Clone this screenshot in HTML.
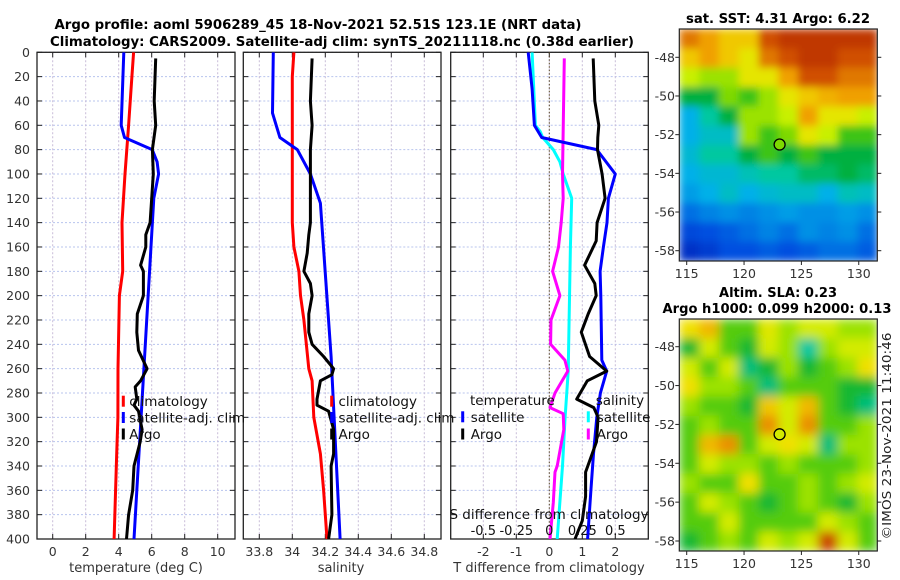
<!DOCTYPE html>
<html><head><meta charset="utf-8"><title>Argo profile</title>
<style>
html,body{margin:0;padding:0;background:#fff;}
svg{display:block;font-family:"DejaVu Sans","Liberation Sans",sans-serif;}
</style></head>
<body>
<svg id="fig" width="900" height="580" viewBox="0 0 900 580" xmlns="http://www.w3.org/2000/svg">
<defs>
<clipPath id="cp1"><rect x="37" y="52.3" width="198" height="486.7"/></clipPath>
<clipPath id="cp2"><rect x="243.3" y="52.3" width="197.7" height="486.7"/></clipPath>
<clipPath id="cp3"><rect x="450.7" y="52.3" width="197.6" height="486.7"/></clipPath>
<clipPath id="cpm1"><rect x="679.3" y="29" width="198" height="232"/></clipPath>
<clipPath id="cpm2"><rect x="679.3" y="319" width="198" height="232"/></clipPath>
<filter id="blurA" x="0" y="0" width="1" height="1"><feGaussianBlur stdDeviation="4" edgeMode="duplicate"/></filter>
<filter id="blurB" x="0" y="0" width="1" height="1"><feGaussianBlur stdDeviation="5" edgeMode="duplicate"/></filter>
</defs>
<text x="318" y="29" text-anchor="middle" font-weight="bold" font-size="13.5" textLength="527" lengthAdjust="spacingAndGlyphs">Argo profile: aoml 5906289_45 18-Nov-2021 52.51S 123.1E (NRT data)</text>
<text x="342" y="46" text-anchor="middle" font-weight="bold" font-size="13.5" textLength="584" lengthAdjust="spacingAndGlyphs">Climatology: CARS2009. Satellite-adj clim: synTS_20211118.nc (0.38d earlier)</text>
<text x="778" y="23" text-anchor="middle" font-weight="bold" font-size="13" textLength="184" lengthAdjust="spacingAndGlyphs">sat. SST: 4.31 Argo: 6.22</text>
<text x="778" y="297" text-anchor="middle" font-weight="bold" font-size="13" textLength="118" lengthAdjust="spacingAndGlyphs">Altim. SLA: 0.23</text>
<text x="777" y="313" text-anchor="middle" font-weight="bold" font-size="13" textLength="229" lengthAdjust="spacingAndGlyphs">Argo h1000: 0.099 h2000: 0.13</text>
<text transform="translate(891,436) rotate(-90)" text-anchor="middle" font-size="12.5" fill="#222" textLength="207" lengthAdjust="spacingAndGlyphs">©IMOS 23-Nov-2021 11:40:46</text>
<g id="root"></g>
</svg>
<script>
// ---------- data ----------
const depthTicks = [0,20,40,60,80,100,120,140,160,180,200,220,240,260,280,300,320,340,360,380,400];
const tempTicks = [0,2,4,6,8,10];
const salTicks = [33.8,34,34.2,34.4,34.6,34.8];
const salTickLabels = ["33.8","34","34.2","34.4","34.6","34.8"];
const tdiffTicks = [-2,-1,0,1,2];
const sdiffTicks = [-0.5,-0.25,0,0.25,0.5];
const sdiffTickLabels = ["-0.5","-0.25","0","0.25","0.5"];
const lonTicks = [115,120,125,130];
const latTicks = [-48,-50,-52,-54,-56,-58];

const climTP = [0,20,60,100,140,180,200,260,300,330,400];
const climT  = [4.9,4.8,4.6,4.38,4.2,4.24,4.04,3.96,3.95,3.88,3.72];
const satTP  = [0,60,70,80,90,100,120,400];
const satT   = [4.31,4.15,4.35,6.03,6.33,6.42,6.13,4.93];
const argoTP = [5,40,60,80,100,140,150,160,175,180,200,215,230,245,260,270,275,285,290,295,310,320,340,360,380,400];
const argoT  = [6.24,6.15,6.24,6.04,6.1,5.9,5.64,5.64,5.33,5.5,5.5,5.13,5.1,5.2,5.72,5.33,5.0,5.1,4.93,5.2,5.42,5.3,4.93,4.85,4.6,4.47];

const climSP = [0,20,100,140,160,180,200,220,260,270,300,330,360,400];
const climS  = [34.01,34.0,34.0,34.0,34.01,34.04,34.05,34.07,34.10,34.12,34.13,34.17,34.19,34.21];
const satSP  = [0,50,70,80,100,124,250,400];
const satS   = [33.885,33.88,33.925,34.03,34.11,34.17,34.235,34.29];
const argoSP = [5,40,60,80,100,140,150,165,180,190,200,215,230,240,250,260,265,270,285,290,295,310,330,340,380,400];
const argoS  = [34.12,34.11,34.12,34.11,34.11,34.11,34.10,34.09,34.07,34.11,34.12,34.10,34.10,34.12,34.19,34.25,34.24,34.17,34.15,34.15,34.22,34.25,34.25,34.235,34.24,34.22];

const tdSatP  = [0,30,60,70,80,100,120,140,160,180,200,253,262,280,300,330,360,400];
const tdSat   = [-0.64,-0.52,-0.45,-0.23,1.44,2.0,1.79,1.75,1.64,1.54,1.56,1.59,1.74,1.55,1.44,1.34,1.26,1.16];
const tdArgoP = [5,40,60,70,80,100,120,140,155,175,190,200,215,230,250,262,270,285,292,300,320,330,345,365,385,400];
const tdArgo  = [1.33,1.38,1.5,1.47,1.46,1.6,1.69,1.45,1.42,1.07,1.38,1.42,1.18,0.97,1.22,1.74,1.15,0.83,1.35,1.48,1.43,1.3,1.1,1.1,1.0,0.78];
const sdSatP  = [0,60,65,70,80,90,100,120,160,253,260,300,340,400];
const sdSat   = [-0.13,-0.105,-0.07,-0.05,0.03,0.08,0.105,0.17,0.16,0.145,0.145,0.12,0.1,0.06];
const sdArgoP = [5,100,120,140,160,180,200,220,240,253,262,280,292,297,310,340,345,370,400];
const sdArgo  = [0.114,0.10,0.105,0.09,0.07,0.025,0.08,0.013,0.01,0.118,0.14,0.043,0.005,0.105,0.11,0.06,0.043,0.03,0.005];

const sstGrid = [
[0.85,0.8,0.75,0.75,0.9,0.95,0.95,0.95,0.95,0.95],
[0.75,0.8,0.75,0.7,0.85,0.9,0.95,0.95,0.9,0.9],
[0.65,0.62,0.62,0.7,0.7,0.8,0.9,0.9,0.85,0.85],
[0.5,0.5,0.6,0.55,0.62,0.7,0.75,0.78,0.8,0.8],
[0.35,0.45,0.5,0.62,0.62,0.65,0.8,0.7,0.7,0.65],
[0.35,0.4,0.4,0.62,0.55,0.6,0.7,0.65,0.55,0.55],
[0.38,0.45,0.45,0.5,0.55,0.5,0.55,0.5,0.5,0.5],
[0.35,0.38,0.38,0.42,0.45,0.45,0.48,0.48,0.5,0.48],
[0.32,0.35,0.4,0.35,0.38,0.4,0.4,0.35,0.42,0.4],
[0.25,0.28,0.3,0.28,0.3,0.32,0.3,0.3,0.32,0.3],
[0.18,0.2,0.22,0.25,0.28,0.25,0.3,0.28,0.3,0.25],
[0.12,0.15,0.2,0.2,0.22,0.2,0.22,0.25,0.25,0.22]];
const slaGrid = [
[0.65,0.7,0.5,0.5,0.62,0.55,0.6,0.6,0.55,0.55],
[0.45,0.6,0.5,0.45,0.6,0.55,0.38,0.55,0.6,0.6],
[0.6,0.5,0.6,0.4,0.45,0.55,0.45,0.5,0.55,0.65],
[0.65,0.55,0.55,0.5,0.4,0.5,0.5,0.5,0.45,0.45],
[0.55,0.5,0.5,0.45,0.68,0.6,0.7,0.5,0.45,0.4],
[0.5,0.55,0.5,0.5,0.75,0.6,0.75,0.5,0.5,0.55],
[0.5,0.7,0.75,0.5,0.6,0.65,0.6,0.4,0.55,0.55],
[0.5,0.6,0.55,0.55,0.5,0.55,0.5,0.5,0.5,0.55],
[0.55,0.5,0.5,0.65,0.5,0.5,0.55,0.5,0.55,0.6],
[0.5,0.6,0.55,0.5,0.45,0.5,0.55,0.5,0.45,0.55],
[0.5,0.5,0.6,0.5,0.5,0.5,0.5,0.6,0.55,0.5],
[0.45,0.5,0.55,0.5,0.6,0.55,0.6,0.85,0.6,0.5]];
const argoLon = 123.1;
const argoLat = -52.51;

// ---------- scales ----------
const Y0 = 52.3, Y1 = 539;
const yP = p => Y0 + p*(Y1-Y0)/400;
const xT = t => 52.7 + t*16.5;
const xS = s => 292.3 + (s-34)*165;
const xTd = d => 549.3 + d*33;
const xSd = d => 549.3 + d*132;
const mapX0 = 679.3, mapW = 198, mapH = 232;
const xLon = lon => 686.7 + (lon-115)*11.47;
const yLat1 = lat => 57.3 + (-48-lat)*19.34;
const yLat2 = lat => 346.7 + (-48-lat)*19.43;

const NS = "http://www.w3.org/2000/svg";
const root = document.getElementById('root');
function mk(tag, attrs, parent){
  const e = document.createElementNS(NS, tag);
  for (const k in attrs) e.setAttribute(k, attrs[k]);
  (parent||root).appendChild(e);
  return e;
}
const cmapStops = [0,0.2,0.35,0.45,0.5,0.58,0.65,0.72,0.8,0.9,1];
const cmapCols = [[0,0,160],[0,80,224],[0,176,232],[0,200,160],[0,176,64],[96,208,0],[200,240,0],[240,224,0],[240,160,0],[208,80,0],[176,32,0]];
function jet(v){
  v = Math.max(0,Math.min(1,v));
  let i = 0;
  while (i < cmapStops.length-2 && v > cmapStops[i+1]) i++;
  const f = (v-cmapStops[i])/(cmapStops[i+1]-cmapStops[i]);
  const a = cmapCols[i], b = cmapCols[i+1];
  return `rgb(${Math.round(a[0]+(b[0]-a[0])*f)},${Math.round(a[1]+(b[1]-a[1])*f)},${Math.round(a[2]+(b[2]-a[2])*f)})`;
}

// ---------- profile panels ----------
const panels = [
 {id:'temperature', x0:37, x1:235, clip:'cp1', ticks:tempTicks, labels:tempTicks.map(String), xf:xT, title:'temperature (deg C)', tcx:136},
 {id:'salinity', x0:243.3, x1:441, clip:'cp2', ticks:salTicks, labels:salTickLabels, xf:xS, title:'salinity', tcx:341},
 {id:'difference', x0:450.7, x1:648.3, clip:'cp3', ticks:tdiffTicks, labels:tdiffTicks.map(String), xf:xTd, title:'T difference from climatology', tcx:549}
];
panels.forEach((P,pi)=>{
  const g = mk('g',{});
  
  
  depthTicks.forEach(d=>{
    const l = mk('line',{x1:P.x0,x2:P.x1,y1:yP(d),y2:yP(d),stroke:'#b8c4ee','stroke-width':1,'stroke-dasharray':'2,2'},g);
    
    
  });
  P.ticks.forEach(t=>{
    const x = P.xf(t);
    const l = mk('line',{x1:x,x2:x,y1:Y0,y2:Y1,stroke:'#c8bcd8','stroke-width':1,'stroke-dasharray':'2,2'},g);
    
    
  });
  depthTicks.forEach(d=>{
    mk('line',{x1:P.x0,x2:P.x0+5,y1:yP(d),y2:yP(d),stroke:'#222','stroke-width':1},g);
    mk('line',{x1:P.x1-5,x2:P.x1,y1:yP(d),y2:yP(d),stroke:'#222','stroke-width':1},g);
  });
  P.ticks.forEach((t,i)=>{
    const x = P.xf(t);
    mk('line',{x1:x,x2:x,y1:Y1,y2:Y1-5,stroke:'#222','stroke-width':1},g);
    mk('line',{x1:x,x2:x,y1:Y0,y2:Y0+5,stroke:'#222','stroke-width':1},g);
    const tx = mk('text',{x:x,y:556,'text-anchor':'middle','font-size':12.5,fill:'#333'},g);
    tx.textContent = P.labels[i];
    
    
  });
  const at = mk('text',{x:P.tcx,y:572,'text-anchor':'middle','font-size':13,fill:'#333'},g);
  at.textContent = P.title;
  
  
  const fr = mk('rect',{x:P.x0,y:Y0,width:P.x1-P.x0,height:Y1-Y0,fill:'none',stroke:'#222','stroke-width':1.3},g);
  
  
});
depthTicks.forEach(d=>{
  const t = mk('text',{x:30,y:yP(d)+4.5,'text-anchor':'end','font-size':12.5,fill:'#333'});
  t.textContent = String(d);
  
  
});

function drawLine(ps, vs, xf, color, clip, name, w){
  const pts = ps.map((p,i)=>xf(vs[i]).toFixed(1)+','+yP(p).toFixed(1)).join(' ');
  const l = mk('polyline',{points:pts,fill:'none',stroke:color,'stroke-width':w||3,'stroke-linejoin':'round','clip-path':'url(#'+clip+')'});
  
  
}
drawLine(climTP, climT, xT, '#ff0000','cp1','temp-climatology-line');
drawLine(satTP, satT, xT, '#0000ff','cp1','temp-satellite-line');
drawLine(argoTP, argoT, xT, '#000000','cp1','temp-argo-line');
drawLine(climSP, climS, xS, '#ff0000','cp2','sal-climatology-line');
drawLine(satSP, satS, xS, '#0000ff','cp2','sal-satellite-line');
drawLine(argoSP, argoS, xS, '#000000','cp2','sal-argo-line');
const zl = mk('line',{x1:xTd(0),x2:xTd(0),y1:Y0,y2:Y1,stroke:'#554422','stroke-width':1,'stroke-dasharray':'1.5,2'});


drawLine(sdSatP, sdSat, xSd, '#00ffff','cp3','sdiff-satellite-line');
drawLine(sdArgoP, sdArgo, xSd, '#ff00ff','cp3','sdiff-argo-line');
drawLine(tdSatP, tdSat, xTd, '#0000ff','cp3','tdiff-satellite-line');
drawLine(tdArgoP, tdArgo, xTd, '#000000','cp3','tdiff-argo-line');

function legendEntry(mx, tx, y, color, label, name){
  const g = mk('g',{});
  
  
  if (color){
    mk('rect',{x:mx-1.5,y:y-6,width:3,height:11,fill:color},g);
  }
  const t = mk('text',{x:tx,y:y+4.5,'font-size':13.5,fill:'#111'},g);
  t.textContent = label;
}
legendEntry(123.3,129.3,401.7,'#ff0000','climatology','legend-temp-climatology');
legendEntry(123.3,129.3,418,'#0000ff','satellite-adj. clim','legend-temp-satellite');
legendEntry(123.3,129.3,434.5,'#000000','Argo','legend-temp-argo');
legendEntry(331.7,338.5,401.7,'#ff0000','climatology','legend-sal-climatology');
legendEntry(331.7,338.5,418,'#0000ff','satellite-adj. clim','legend-sal-satellite');
legendEntry(331.7,338.5,434.5,'#000000','Argo','legend-sal-argo');
legendEntry(0,470,400.7,null,'temperature','legend-diff-temperature-header');
legendEntry(462.7,470.7,417.3,'#0000ff','satellite','legend-diff-temp-satellite');
legendEntry(462.7,470.7,434.5,'#000000','Argo','legend-diff-temp-argo');
legendEntry(0,595.7,400.7,null,'salinity','legend-diff-salinity-header');
legendEntry(588.3,596.7,417.3,'#00ffff','satellite','legend-diff-sal-satellite');
legendEntry(588.3,596.7,434.5,'#ff00ff','Argo','legend-diff-sal-argo');

const sdt = mk('text',{x:549,y:519,'text-anchor':'middle','font-size':13.5,fill:'#111'});
sdt.textContent = 'S difference from climatology';


sdiffTicks.forEach((v,i)=>{
  const t = mk('text',{x:xSd(v),y:535,'text-anchor':'middle','font-size':13,fill:'#111'});
  t.textContent = sdiffTickLabels[i];
  
  
});

// ---------- maps ----------
function drawMap(grid, top, clip, filt, yLat, name, offset){
  const g = mk('g',{'clip-path':'url(#'+clip+')'});
  
  
  const inner = mk('g',{filter:'url(#'+filt+')'},g);
  const rows = grid.length, cols = grid[0].length;
  const cw = mapW/cols, ch = mapH/rows;
  grid.forEach((row,r)=>row.forEach((v,c)=>{
    const cell = mk('rect',{x:mapX0+c*cw,y:top+r*ch,width:cw+0.6,height:ch+0.6,fill:jet(v+offset)},inner);
    
    
  }));
  const fr = mk('rect',{x:mapX0,y:top,width:mapW,height:mapH,fill:'none',stroke:'#222','stroke-width':1.2});
  
  
  const cv = grid[Math.floor((-46.54-argoLat)/(12/rows))][Math.floor((argoLon-114.4)/(17.25/cols))];
  const c = mk('circle',{cx:xLon(argoLon),cy:yLat(argoLat),r:5.5,fill:jet(cv+offset),stroke:'#000','stroke-width':1.3});
  
  
  latTicks.forEach(lat=>{
    const y = yLat(lat);
    mk('line',{x1:mapX0-4,x2:mapX0,y1:y,y2:y,stroke:'#222'});
    mk('line',{x1:mapX0+mapW,x2:mapX0+mapW+4,y1:y,y2:y,stroke:'#222'});
    const t = mk('text',{x:675,y:y+4.5,'text-anchor':'end','font-size':12.5,fill:'#333'});
    t.textContent = String(lat);
    
    
  });
  lonTicks.forEach(lon=>{
    const x = xLon(lon);
    mk('line',{x1:x,x2:x,y1:top+mapH,y2:top+mapH+4,stroke:'#222'});
    const t = mk('text',{x:x,y:top+mapH+17,'text-anchor':'middle','font-size':12.5,fill:'#333'});
    t.textContent = String(lon);
    
    
  });
}
drawMap(sstGrid, 29, 'cpm1', 'blurA', yLat1, 'sst-map', 0);
drawMap(slaGrid, 319, 'cpm2', 'blurB', yLat2, 'sla-map', 0.07);
</script>
</body></html>
